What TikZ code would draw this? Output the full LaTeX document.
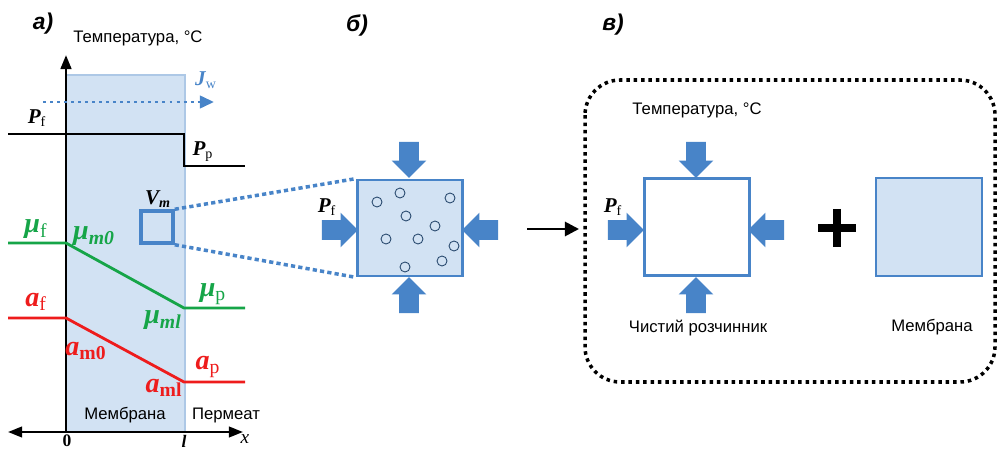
\documentclass[tikz,border=0pt]{standalone}
\usepackage{fontspec}
\setmainfont{Liberation Sans}
\newfontfamily\symfont{Liberation Serif}
\usetikzlibrary{shapes.arrows,arrows.meta}

\definecolor{memblue}{RGB}{210,226,243}
\definecolor{edgeblue}{RGB}{72,132,200}
\definecolor{mugreen}{RGB}{22,165,72}
\definecolor{actred}{RGB}{238,28,28}

% symbol with subscript, Times-like bold italic
\newcommand{\qsym}[2]{{\symfont\bfseries\itshape #1}{\symfont\textsubscript{#2}}}

\begin{document}
\begin{tikzpicture}[x=0.02cm,y=-0.02cm]
  \tikzstyle{txt}       = [font=\fontsize{9.5}{11}\selectfont, inner sep=0pt]
  \tikzstyle{panel_lbl} = [font=\fontsize{13}{13}\selectfont\bfseries\itshape, inner sep=0pt]
  \tikzstyle{sym_small} = [font=\fontsize{12}{12}\selectfont, inner sep=0pt]
  \tikzstyle{sym_big}   = [font=\fontsize{16}{16}\selectfont, inner sep=0pt]
  \tikzstyle{fat_arrow} = [single arrow, fill=edgeblue, draw=none,
                           inner sep=0.19cm, minimum height=0.72cm,
                           single arrow head extend=0.15cm]
  \tikzstyle{cell}      = [shape = rectangle, draw = edgeblue, line width=1.6pt, inner sep=0pt]
  \tikzstyle{zoom_link} = [edgeblue, line width=2pt, dash pattern=on 2.4pt off 1.8pt]
  \tikzstyle{profile}   = [line width=1.6pt]

  \useasboundingbox (0,0) rectangle (1000,449);

  % ---- panel a ----
  \fill[memblue] (66,75) rectangle (185,432);
  \draw[edgeblue!45, line width=0.6pt] (66,75) rectangle (185,432);

  \node[panel_lbl] (lbl_a) at (43,24) {а)};
  \node[txt]       (temp_a) at (138,38) {Температура, °C};

  \coordinate (ax_o)  at (66,432);
  \coordinate (ax_up) at (66,55);
  \coordinate (ax_l)  at (8,432);
  \coordinate (ax_r)  at (243,432);
  \draw[line width=1.6pt, -{Triangle[length=8pt,width=6pt]}] (ax_o) -- (ax_up);
  \draw[line width=1.3pt, {Triangle[length=8pt,width=6pt]}-{Triangle[length=8pt,width=6pt]}] (ax_l) -- (ax_r);

  \node[sym_small, font=\fontsize{10}{10}\selectfont] (x0) at (67,441) {\symfont\bfseries 0};
  \node[sym_small, font=\fontsize{10}{10}\selectfont] (xl) at (184,441) {\symfont\bfseries\itshape l};
  \node[sym_small, font=\fontsize{11}{11}\selectfont] (xx) at (245,439) {\symfont\itshape x};

  \coordinate (jw_s) at (43,102);
  \coordinate (jw_e) at (214,102);
  \draw[edgeblue, line width=1.7pt, dash pattern=on 1.7pt off 2.3pt,
        -{Triangle[length=8pt,width=7pt]}] (jw_s) -- (jw_e);
  \node[sym_small, text=edgeblue] (jw) at (206,80) {\qsym{J}{w}};

  \draw[profile] (8,134) -- (184,134) -- (184,166) -- (245,166);
  \node[sym_small] (pf_a) at (37,118) {\qsym{P}{f}};
  \node[sym_small] (pp_a) at (203,152) {\qsym{P}{p}};

  \draw[profile, mugreen] (8,243) -- (66,243) -- (184,308) -- (245,308);
  \node[sym_big, text=mugreen] (mu_f)  at (36,229) {\qsym{μ}{f}};
  \node[sym_big, text=mugreen] (mu_m0) at (94,236) {\qsym{μ}{\itshape\bfseries m0}};
  \node[sym_big, text=mugreen] (mu_p)  at (213,294) {\qsym{μ}{p}};
  \node[sym_big, text=mugreen] (mu_ml) at (163,320) {\qsym{μ}{\itshape\bfseries ml}};

  \draw[profile, actred] (8,318) -- (66,318) -- (184,382) -- (245,382);
  \node[sym_big, text=actred] (a_f)  at (36,302) {\qsym{a}{f}};
  \node[sym_big, text=actred] (a_m0) at (86,351) {\qsym{a}{\bfseries m0}};
  \node[sym_big, text=actred] (a_p)  at (208,367) {\qsym{a}{p}};
  \node[sym_big, text=actred] (a_ml) at (164,388) {\qsym{a}{\bfseries ml}};

  \node[txt] (memb_a) at (125,415) {Мембрана};
  \node[txt] (perm_a) at (226,415) {Пермеат};

  \node[cell, line width=2pt, minimum width=0.64cm, minimum height=0.64cm] (vm) at (157,227) {};
  \node[sym_small] (vm_lbl) at (158,199) {\symfont\bfseries\itshape V\textsubscript{m}};

  % ---- panel b ----
  \node[panel_lbl] (lbl_b) at (357,25) {б)};
  \node[cell, fill=memblue, minimum width=2.10cm, minimum height=1.92cm] (cell_b) at (410,228) {};

  \draw[zoom_link] (vm.north east) -- (cell_b.north west);
  \draw[zoom_link] (vm.south east) -- (cell_b.south west);

  \node[fat_arrow, shape border rotate=270] (b_top)   at (409,155) {};
  \node[fat_arrow, shape border rotate=90]  (b_bot)   at (409,300) {};
  \node[fat_arrow]                          (b_left)  at (335,230) {};
  \node[fat_arrow, shape border rotate=180] (b_right) at (485,230) {};
  \node[sym_small] (pf_b) at (327,207) {\qsym{P}{f}};

  \foreach \dx in {0,288}
    \foreach \cx/\cy in {377/202, 400/193, 450/198, 406/216, 435/226,
                         386/239, 418/239, 454/246, 442/261, 405/267}
      \draw[edgeblue!55!black, line width=0.5pt] (\cx+\dx,\cy) circle (5);

  \coordinate (go_s) at (527,229);
  \coordinate (go_e) at (579,229);
  \draw[line width=1.6pt, -{Triangle[length=8pt,width=8pt]}] (go_s) -- (go_e);

  % ---- panel c ----
  \node[panel_lbl] (lbl_c) at (613,25) {в)};
  \draw[line width=2pt, dash pattern=on 2pt off 2.2pt, rounded corners=20pt]
    (585,80) rectangle (995,382);

  \node[txt] (temp_c) at (697,110) {Температура, °C};
  \node[cell, fill=white, minimum width=2.10cm, minimum height=1.94cm] (cell_c) at (697,227) {};
  \node[fat_arrow, shape border rotate=270] (c_top)   at (696,155) {};
  \node[fat_arrow, shape border rotate=90]  (c_bot)   at (696,300) {};
  \node[fat_arrow]                          (c_left)  at (621,230) {};
  \node[fat_arrow, shape border rotate=180] (c_right) at (771,230) {};
  \node[sym_small] (pf_c) at (613,207) {\qsym{P}{f}};
  \node[txt] (solv_c) at (698,328) {Чистий розчинник};

  \draw[line width=4.5pt] (818,228) -- (856,228);
  \draw[line width=4.5pt] (837,209) -- (837,247);

  \node[cell, fill=memblue, minimum width=2.12cm, minimum height=1.96cm] (memb_c) at (929,227) {};
  \node[txt] (memb_lbl_c) at (932,327) {Мембрана};
\end{tikzpicture}
\end{document}
